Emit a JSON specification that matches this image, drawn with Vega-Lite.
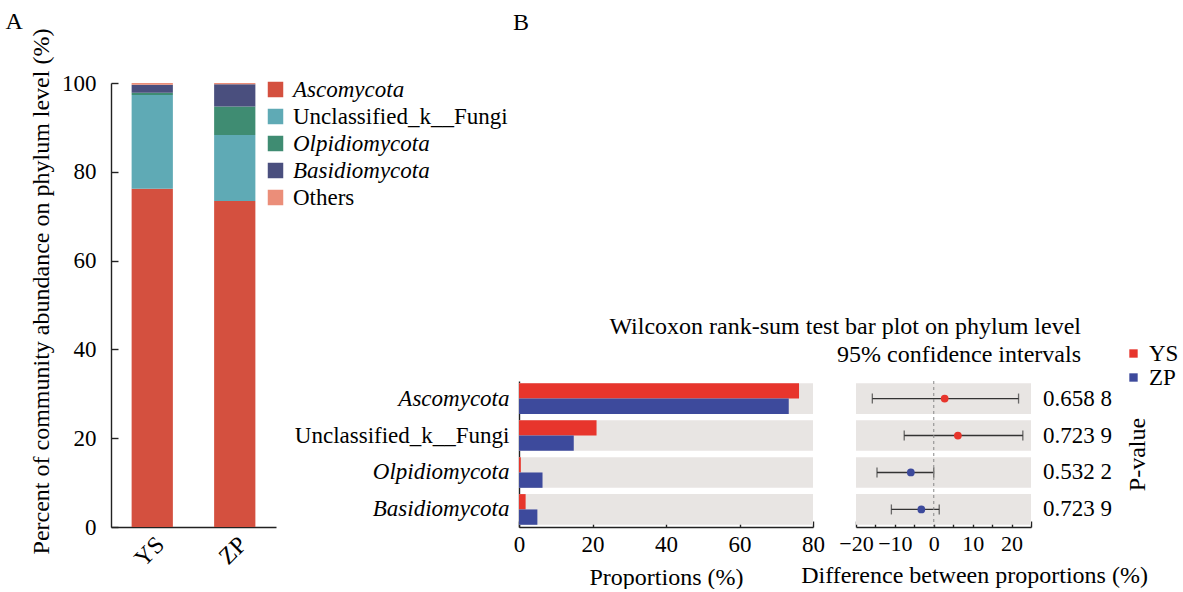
{
  "$schema": "https://vega.github.io/schema/vega-lite/v6.json",
  "background": "white",
  "padding": {"left": 5, "top": 10, "right": 0, "bottom": 0},
  "bounds": "flush",
  "spacing": 243,
  "config": {
    "font": "Liberation Serif",
    "view": {"stroke": null},
    "title": {"font": "Liberation Serif", "fontSize": 24, "fontWeight": "normal", "color": "#000"},
    "axis": {
      "grid": false,
      "labelFlush": false,
      "labelLimit": 0,
      "labelFont": "Liberation Serif",
      "titleFont": "Liberation Serif",
      "labelFontSize": 23,
      "titleFontSize": 24,
      "titleFontWeight": "normal",
      "labelColor": "#000",
      "titleColor": "#000",
      "domainColor": "#222",
      "tickColor": "#222",
      "domainWidth": 1.4,
      "tickWidth": 1.4
    },
    "legend": {"labelFont": "Liberation Serif", "labelColor": "#000", "labelLimit": 0}
  },
  "datasets": {
    "abund": [
      {"sample": "YS", "phylum": "Ascomycota", "pct": 76.2},
      {"sample": "YS", "phylum": "Unclassified_k__Fungi", "pct": 21.1},
      {"sample": "YS", "phylum": "Olpidiomycota", "pct": 0.5},
      {"sample": "YS", "phylum": "Basidiomycota", "pct": 1.8},
      {"sample": "YS", "phylum": "Others", "pct": 0.4},
      {"sample": "ZP", "phylum": "Ascomycota", "pct": 73.4},
      {"sample": "ZP", "phylum": "Unclassified_k__Fungi", "pct": 14.9},
      {"sample": "ZP", "phylum": "Olpidiomycota", "pct": 6.4},
      {"sample": "ZP", "phylum": "Basidiomycota", "pct": 5.0},
      {"sample": "ZP", "phylum": "Others", "pct": 0.3}
    ],
    "wilcox": [
      {"phylum": "Ascomycota", "diff": 2.8, "lower": -15.8, "upper": 21.8, "higher": "YS", "p": "0.658 8"},
      {"phylum": "Unclassified_k__Fungi", "diff": 6.2, "lower": -7.6, "upper": 22.9, "higher": "YS", "p": "0.723 9"},
      {"phylum": "Olpidiomycota", "diff": -5.9, "lower": -14.6, "upper": 0.0, "higher": "ZP", "p": "0.532 2"},
      {"phylum": "Basidiomycota", "diff": -3.2, "lower": -10.9, "upper": 1.4, "higher": "ZP", "p": "0.723 9"}
    ]
  },
  "resolve": {
    "scale": {"color": "independent", "x": "independent", "y": "independent"},
    "legend": {"color": "independent"}
  },
  "hconcat": [
    {
      "width": 165,
      "height": 444,
      "title": {"text": "A", "anchor": "start", "frame": "bounds", "offset": 0, "dx": -24, "dy": 6},
      "data": {"name": "abund"},
      "transform": [
        {"calculate": "indexof(['Ascomycota','Unclassified_k__Fungi','Olpidiomycota','Basidiomycota','Others'], datum.phylum)", "as": "stack_rank"}
      ],
      "mark": {"type": "bar"},
      "encoding": {
        "x": {
          "field": "sample", "type": "nominal", "sort": ["YS", "ZP"],
          "scale": {"paddingInner": 0.5, "paddingOuter": 0.25},
          "axis": {"title": null, "labelAngle": -45, "tickSize": -7, "labelPadding": 12, "labelFontSize": 24}
        },
        "y": {
          "field": "pct", "type": "quantitative", "stack": "zero",
          "scale": {"domain": [0, 100], "nice": false},
          "axis": {
            "values": [0, 20, 40, 60, 80, 100],
            "tickSize": -7,
            "labelPadding": 22,
            "title": "Percent of community abundance on phylum level (%)",
            "titleY": 208,
            "titlePadding": 8
          }
        },
        "color": {
          "field": "phylum", "type": "nominal",
          "scale": {
            "domain": ["Ascomycota", "Unclassified_k__Fungi", "Olpidiomycota", "Basidiomycota", "Others"],
            "range": ["#D4503F", "#5FAAB5", "#3F8C72", "#4A4F7E", "#EB8E79"]
          },
          "legend": {
            "orient": "none",
            "legendX": 153,
            "legendY": -5,
            "title": null,
            "symbolType": "square",
            "symbolSize": 240,
            "symbolStrokeWidth": 0,
            "labelFontSize": 23,
            "labelOffset": 6,
            "rowPadding": 3,
            "encode": {
              "labels": {
                "update": {
                  "fontStyle": {"signal": "datum.label === 'Unclassified_k__Fungi' || datum.label === 'Others' ? 'normal' : 'italic'"}
                }
              }
            }
          }
        },
        "order": {"field": "stack_rank", "type": "quantitative", "sort": "ascending"}
      }
    },
    {
      "bounds": "flush",
      "spacing": 43,
      "resolve": {
        "scale": {"color": "independent", "x": "independent", "y": "independent"},
        "legend": {"color": "independent"}
      },
      "hconcat": [
        {
          "width": 294,
          "height": 444,
          "title": {"text": "B", "anchor": "start", "frame": "group", "offset": 48, "dx": -6},
          "layer": [
            {
              "data": {"name": "wilcox"},
              "mark": {"type": "bar", "color": "#E8E5E3"},
              "encoding": {
                "y": {
                  "field": "phylum", "type": "nominal",
                  "sort": ["Ascomycota", "Unclassified_k__Fungi", "Olpidiomycota", "Basidiomycota"],
                  "scale": {"range": [298, 444], "paddingInner": 0.17, "paddingOuter": 0.06},
                  "axis": {
                    "title": null,
                    "ticks": false,
                    "labelPadding": 10,
                    "labelFontStyle": {"condition": {"test": "datum.value === 'Unclassified_k__Fungi'", "value": "normal"}, "value": "italic"}
                  }
                },
                "x": {
                  "datum": 0, "type": "quantitative",
                  "scale": {"domain": [0, 80], "nice": false},
                  "axis": {"values": [0, 20, 40, 60, 80], "tickSize": -6, "labelPadding": 12, "title": "Proportions (%)", "titlePadding": 9}
                },
                "x2": {"datum": 80}
              }
            },
            {
              "data": {"name": "abund"},
              "transform": [{"filter": "datum.phylum !== 'Others'"}],
              "mark": {"type": "bar"},
              "encoding": {
                "y": {
                  "field": "phylum", "type": "nominal",
                  "sort": ["Ascomycota", "Unclassified_k__Fungi", "Olpidiomycota", "Basidiomycota"],
                  "scale": {"range": [298, 444], "paddingInner": 0.17, "paddingOuter": 0.06},
                  "axis": {
                    "title": null,
                    "ticks": false,
                    "labelPadding": 10,
                    "labelFontStyle": {"condition": {"test": "datum.value === 'Unclassified_k__Fungi'", "value": "normal"}, "value": "italic"}
                  }
                },
                "yOffset": {"field": "sample", "type": "nominal", "sort": ["YS", "ZP"], "scale": {"paddingInner": 0, "paddingOuter": 0}},
                "x": {
                  "field": "pct", "type": "quantitative",
                  "scale": {"domain": [0, 80], "nice": false},
                  "axis": {"values": [0, 20, 40, 60, 80], "tickSize": -6, "labelPadding": 12, "title": "Proportions (%)", "titlePadding": 9}
                },
                "color": {
                  "field": "sample", "type": "nominal",
                  "scale": {"domain": ["YS", "ZP"], "range": ["#E7352C", "#3D4A9C"]},
                  "legend": {
                    "orient": "none",
                    "legendX": 603,
                    "legendY": 259,
                    "title": null,
                    "symbolType": "square",
                    "symbolSize": 70,
                    "symbolStrokeWidth": 0,
                    "labelFontSize": 23,
                    "labelOffset": 4,
                    "rowPadding": 0
                  }
                }
              }
            }
          ]
        },
        {
          "width": 175,
          "height": 444,
          "title": {
            "text": ["Wilcoxon rank-sum test bar plot on phylum level", "95% confidence intervals"],
            "anchor": "end", "frame": "group", "offset": -284, "dx": 50, "lineHeight": 28
          },
          "data": {"name": "wilcox"},
          "resolve": {"scale": {"y": "independent"}},
          "layer": [
            {
              "layer": [
                {
                  "mark": {"type": "bar", "color": "#E8E5E3"},
                  "encoding": {
                    "y": {
                      "field": "phylum", "type": "nominal",
                      "sort": ["Ascomycota", "Unclassified_k__Fungi", "Olpidiomycota", "Basidiomycota"],
                      "scale": {"range": [298, 444], "paddingInner": 0.17, "paddingOuter": 0.06},
                      "axis": {"orient": "right", "labels": false, "ticks": false, "domain": false, "title": "P-value", "titleAngle": -90, "titlePadding": 118}
                    },
                    "x": {
                      "datum": -20, "type": "quantitative",
                      "scale": {"domain": [-20, 25], "nice": false, "zero": false},
                      "axis": {
                        "values": [-20, -15, -10, -5, 0, 5, 10, 15, 20, 25],
                        "labelExpr": "datum.value % 10 === 0 ? format(datum.value, 'd') : ''",
                        "labelOverlap": false, "labelFontSize": 22, "tickSize": -6, "labelPadding": 12,
                        "title": "Difference between proportions (%)", "titlePadding": 9, "titleX": 118
                      }
                    },
                    "x2": {"datum": 25}
                  }
                },
                {
                  "mark": {"type": "errorbar", "ticks": true, "color": "#333", "thickness": 1.3, "size": 10},
                  "encoding": {
                    "y": {
                      "field": "phylum", "type": "nominal",
                      "sort": ["Ascomycota", "Unclassified_k__Fungi", "Olpidiomycota", "Basidiomycota"],
                      "scale": {"range": [298, 444], "paddingInner": 0.17, "paddingOuter": 0.06},
                      "axis": {"orient": "right", "labels": false, "ticks": false, "domain": false, "title": "P-value", "titleAngle": -90, "titlePadding": 118}
                    },
                    "x": {
                      "field": "lower", "type": "quantitative",
                      "scale": {"domain": [-20, 25], "nice": false, "zero": false},
                      "axis": {
                        "values": [-20, -15, -10, -5, 0, 5, 10, 15, 20, 25],
                        "labelExpr": "datum.value % 10 === 0 ? format(datum.value, 'd') : ''",
                        "labelOverlap": false, "labelFontSize": 22, "tickSize": -6, "labelPadding": 12,
                        "title": "Difference between proportions (%)", "titlePadding": 9, "titleX": 118
                      }
                    },
                    "x2": {"field": "upper"}
                  }
                },
                {
                  "mark": {"type": "point", "filled": true, "shape": "circle", "size": 60, "opacity": 1},
                  "encoding": {
                    "y": {
                      "field": "phylum", "type": "nominal",
                      "sort": ["Ascomycota", "Unclassified_k__Fungi", "Olpidiomycota", "Basidiomycota"],
                      "scale": {"range": [298, 444], "paddingInner": 0.17, "paddingOuter": 0.06},
                      "axis": {"orient": "right", "labels": false, "ticks": false, "domain": false, "title": "P-value", "titleAngle": -90, "titlePadding": 118}
                    },
                    "x": {
                      "field": "diff", "type": "quantitative",
                      "scale": {"domain": [-20, 25], "nice": false, "zero": false},
                      "axis": {
                        "values": [-20, -15, -10, -5, 0, 5, 10, 15, 20, 25],
                        "labelExpr": "datum.value % 10 === 0 ? format(datum.value, 'd') : ''",
                        "labelOverlap": false, "labelFontSize": 22, "tickSize": -6, "labelPadding": 12,
                        "title": "Difference between proportions (%)", "titlePadding": 9, "titleX": 118
                      }
                    },
                    "color": {
                      "field": "higher", "type": "nominal",
                      "scale": {"domain": ["YS", "ZP"], "range": ["#E7352C", "#3D4A9C"]},
                      "legend": null
                    }
                  }
                },
                {
                  "mark": {"type": "text", "align": "left", "baseline": "middle", "dx": 12, "fontSize": 23, "font": "Liberation Serif", "color": "#000"},
                  "encoding": {
                    "y": {
                      "field": "phylum", "type": "nominal",
                      "sort": ["Ascomycota", "Unclassified_k__Fungi", "Olpidiomycota", "Basidiomycota"],
                      "scale": {"range": [298, 444], "paddingInner": 0.17, "paddingOuter": 0.06},
                      "axis": {"orient": "right", "labels": false, "ticks": false, "domain": false, "title": "P-value", "titleAngle": -90, "titlePadding": 118}
                    },
                    "x": {
                      "datum": 25, "type": "quantitative",
                      "scale": {"domain": [-20, 25], "nice": false, "zero": false},
                      "axis": {
                        "values": [-20, -15, -10, -5, 0, 5, 10, 15, 20, 25],
                        "labelExpr": "datum.value % 10 === 0 ? format(datum.value, 'd') : ''",
                        "labelOverlap": false, "labelFontSize": 22, "tickSize": -6, "labelPadding": 12,
                        "title": "Difference between proportions (%)", "titlePadding": 9, "titleX": 118
                      }
                    },
                    "text": {"field": "p"}
                  }
                }
              ]
            },
            {
              "transform": [{"aggregate": [{"op": "count", "as": "n"}]}],
              "mark": {"type": "rule", "color": "#888", "strokeDash": [3, 3], "strokeWidth": 1},
              "encoding": {
                "x": {
                  "datum": 0, "type": "quantitative",
                  "scale": {"domain": [-20, 25], "nice": false, "zero": false},
                  "axis": {
                    "values": [-20, -15, -10, -5, 0, 5, 10, 15, 20, 25],
                    "labelExpr": "datum.value % 10 === 0 ? format(datum.value, 'd') : ''",
                    "labelOverlap": false, "labelFontSize": 22, "tickSize": -6, "labelPadding": 12,
                    "title": "Difference between proportions (%)", "titlePadding": 9, "titleX": 118
                  }
                },
                "y": {"datum": 0, "type": "quantitative", "scale": {"domain": [0, 1], "range": [298, 444], "nice": false, "zero": false}, "axis": null},
                "y2": {"datum": 1}
              }
            }
          ]
        }
      ]
    }
  ]
}
